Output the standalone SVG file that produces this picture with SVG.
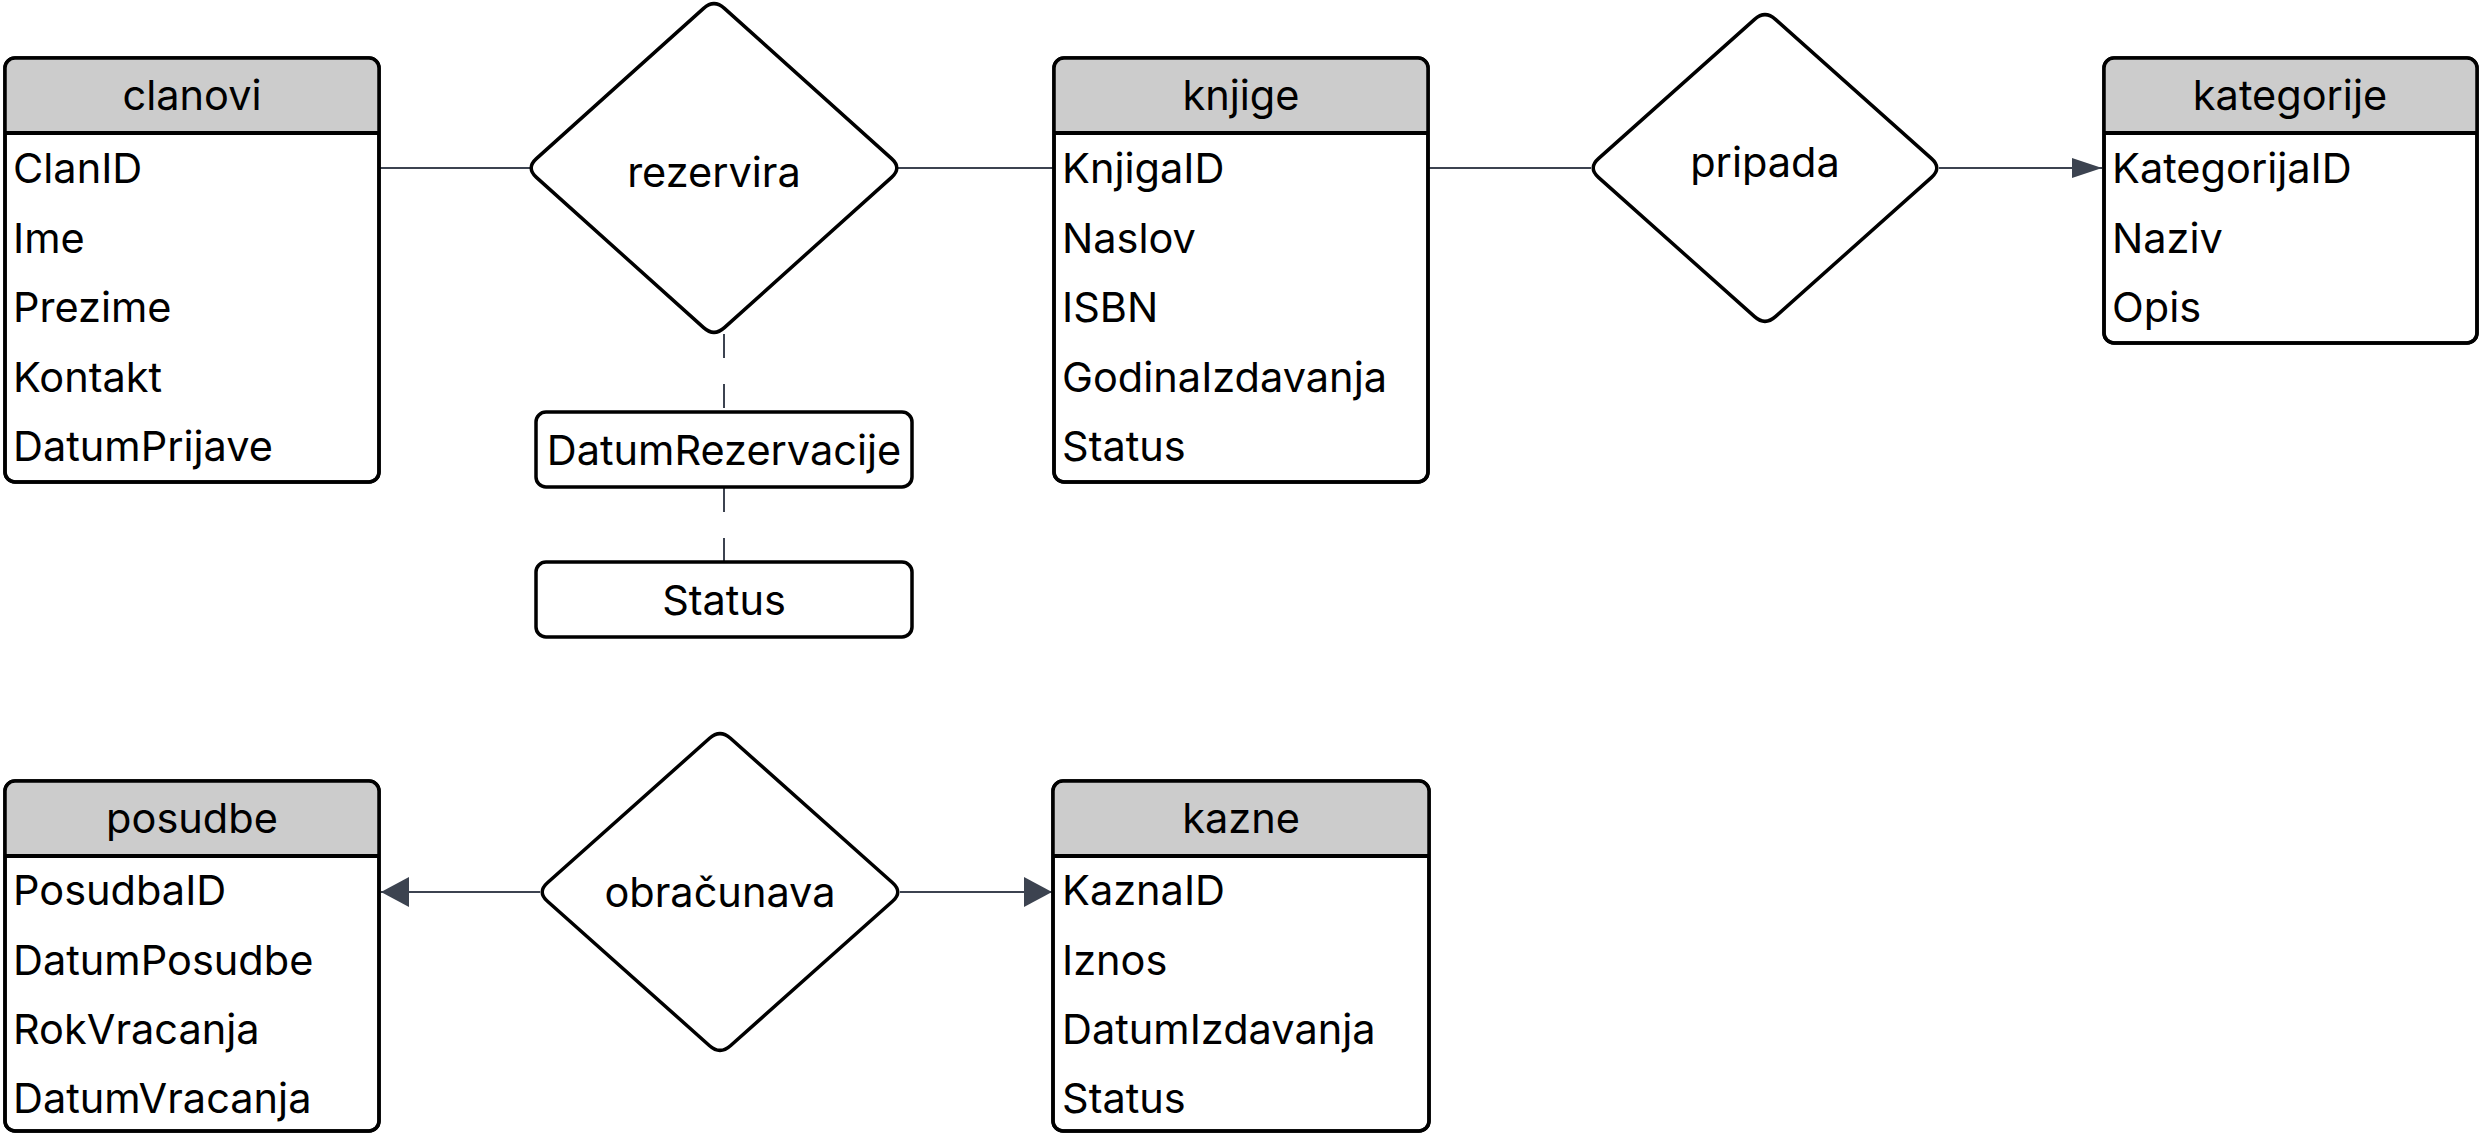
<svg xmlns="http://www.w3.org/2000/svg" width="2479" height="1134" viewBox="0 0 2479 1134">
<style>
text{font-family:Inter,"Noto Sans","Liberation Sans",sans-serif;font-size:41.5px;fill:#000}
.hd{text-anchor:middle}
.box{fill:#fff;stroke:#000;stroke-width:3.5}
.boxo{fill:none;stroke:#000;stroke-width:3.5}
.hfill{fill:#cccccc}
.hline{stroke:#000;stroke-width:4}
.dia{fill:#fff;stroke:#000;stroke-width:3.5;stroke-linejoin:round}
.con{fill:none;stroke:#3c4350;stroke-width:2}
.dash{fill:none;stroke:#3c4350;stroke-width:2;stroke-dasharray:24 26}
</style>
<defs>
<marker id="arrS" viewBox="0 0 30 20" markerWidth="30" markerHeight="20" markerUnits="userSpaceOnUse" refX="30" refY="10" orient="auto"><path d="M0,0 L30,10 L0,20 Z" fill="#3c4350"/></marker>
<marker id="arrL" viewBox="0 0 28 30" markerWidth="28" markerHeight="30" markerUnits="userSpaceOnUse" refX="28" refY="15" orient="auto"><path d="M0,0 L28,15 L0,30 Z" fill="#3c4350"/></marker>
</defs>

<g id="connectors">
<line class="con" x1="379" y1="168" x2="530" y2="168"/>
<line class="con" x1="898" y1="168" x2="1054" y2="168"/>
<line class="con" x1="1428" y1="168" x2="1591" y2="168"/>
<line class="con" x1="1939" y1="168" x2="2102" y2="168" marker-end="url(#arrS)"/>
<line class="dash" x1="724" y1="334" x2="724" y2="412"/>
<line class="dash" x1="724" y1="488" x2="724" y2="562"/>
<line class="con" x1="540" y1="892" x2="381" y2="892" marker-end="url(#arrL)"/>
<line class="con" x1="900" y1="892" x2="1052" y2="892" marker-end="url(#arrL)"/>
</g>

<g id="clanovi">
<rect class="box" x="5" y="58" width="374" height="424" rx="10"/>
<path class="hfill" d="M5,133 V68 Q5,58 15,58 H369 Q379,58 379,68 V133 Z"/>
<line class="hline" x1="5" y1="133" x2="379" y2="133"/>
<rect class="boxo" x="5" y="58" width="374" height="424" rx="10"/>
<text class="hd" x="192" y="110">clanovi</text>
<text x="13" y="183">ClanID</text>
<text x="13" y="253">Ime</text>
<text x="13" y="322">Prezime</text>
<text x="13" y="392">Kontakt</text>
<text x="13" y="461">DatumPrijave</text>
</g>

<g id="rezervira">
<path class="dia" d="M 724.41 8.36 L 891.59 158.64 Q 902 168 891.59 177.36 L 724.41 327.64 Q 714 337 703.59 327.64 L 536.41 177.36 Q 526 168 536.41 158.64 L 703.59 8.36 Q 714 -1 724.41 8.36 Z"/>
<text class="hd" x="714" y="187">rezervira</text>
</g>

<g id="datumrezervacije">
<rect class="box" x="536" y="412" width="376" height="75" rx="10"/>
<text class="hd" x="724" y="465">DatumRezervacije</text>
</g>

<g id="status">
<rect class="box" x="536" y="562" width="376" height="75" rx="10"/>
<text class="hd" x="724" y="615">Status</text>
</g>

<g id="knjige">
<rect class="box" x="1054" y="58" width="374" height="424" rx="10"/>
<path class="hfill" d="M1054,133 V68 Q1054,58 1064,58 H1418 Q1428,58 1428,68 V133 Z"/>
<line class="hline" x1="1054" y1="133" x2="1428" y2="133"/>
<rect class="boxo" x="1054" y="58" width="374" height="424" rx="10"/>
<text class="hd" x="1241" y="110">knjige</text>
<text x="1062" y="183">KnjigaID</text>
<text x="1062" y="253">Naslov</text>
<text x="1062" y="322">ISBN</text>
<text x="1062" y="392">GodinaIzdavanja</text>
<text x="1062" y="461">Status</text>
</g>

<g id="pripada">
<path class="dia" d="M 1775.44 19.32 L 1931.56 158.68 Q 1942 168 1931.56 177.32 L 1775.44 316.68 Q 1765 326 1754.56 316.68 L 1598.44 177.32 Q 1588 168 1598.44 158.68 L 1754.56 19.32 Q 1765 10 1775.44 19.32 Z"/>
<text class="hd" x="1765" y="177">pripada</text>
</g>

<g id="kategorije">
<rect class="box" x="2104" y="58" width="373" height="285" rx="10"/>
<path class="hfill" d="M2104,133 V68 Q2104,58 2114,58 H2467 Q2477,58 2477,68 V133 Z"/>
<line class="hline" x1="2104" y1="133" x2="2477" y2="133"/>
<rect class="boxo" x="2104" y="58" width="373" height="285" rx="10"/>
<text class="hd" x="2290" y="110">kategorije</text>
<text x="2112" y="183">KategorijaID</text>
<text x="2112" y="253">Naziv</text>
<text x="2112" y="322">Opis</text>
</g>

<g id="posudbe">
<rect class="box" x="5" y="781" width="374" height="350" rx="10"/>
<path class="hfill" d="M5,856 V791 Q5,781 15,781 H369 Q379,781 379,791 V856 Z"/>
<line class="hline" x1="5" y1="856" x2="379" y2="856"/>
<rect class="boxo" x="5" y="781" width="374" height="350" rx="10"/>
<text class="hd" x="192" y="833">posudbe</text>
<text x="13" y="905">PosudbaID</text>
<text x="13" y="975">DatumPosudbe</text>
<text x="13" y="1044">RokVracanja</text>
<text x="13" y="1113">DatumVracanja</text>
</g>

<g id="obracunava">
<path class="dia" d="M 730.45 738.31 L 892.55 882.69 Q 903 892 892.55 901.31 L 730.45 1045.69 Q 720 1055 709.55 1045.69 L 547.45 901.31 Q 537 892 547.45 882.69 L 709.55 738.31 Q 720 729 730.45 738.31 Z"/>
<text class="hd" x="720" y="907">obračunava</text>
</g>

<g id="kazne">
<rect class="box" x="1053" y="781" width="376" height="350" rx="10"/>
<path class="hfill" d="M1053,856 V791 Q1053,781 1063,781 H1419 Q1429,781 1429,791 V856 Z"/>
<line class="hline" x1="1053" y1="856" x2="1429" y2="856"/>
<rect class="boxo" x="1053" y="781" width="376" height="350" rx="10"/>
<text class="hd" x="1241" y="833">kazne</text>
<text x="1062" y="905">KaznaID</text>
<text x="1062" y="975">Iznos</text>
<text x="1062" y="1044">DatumIzdavanja</text>
<text x="1062" y="1113">Status</text>
</g>
</svg>
